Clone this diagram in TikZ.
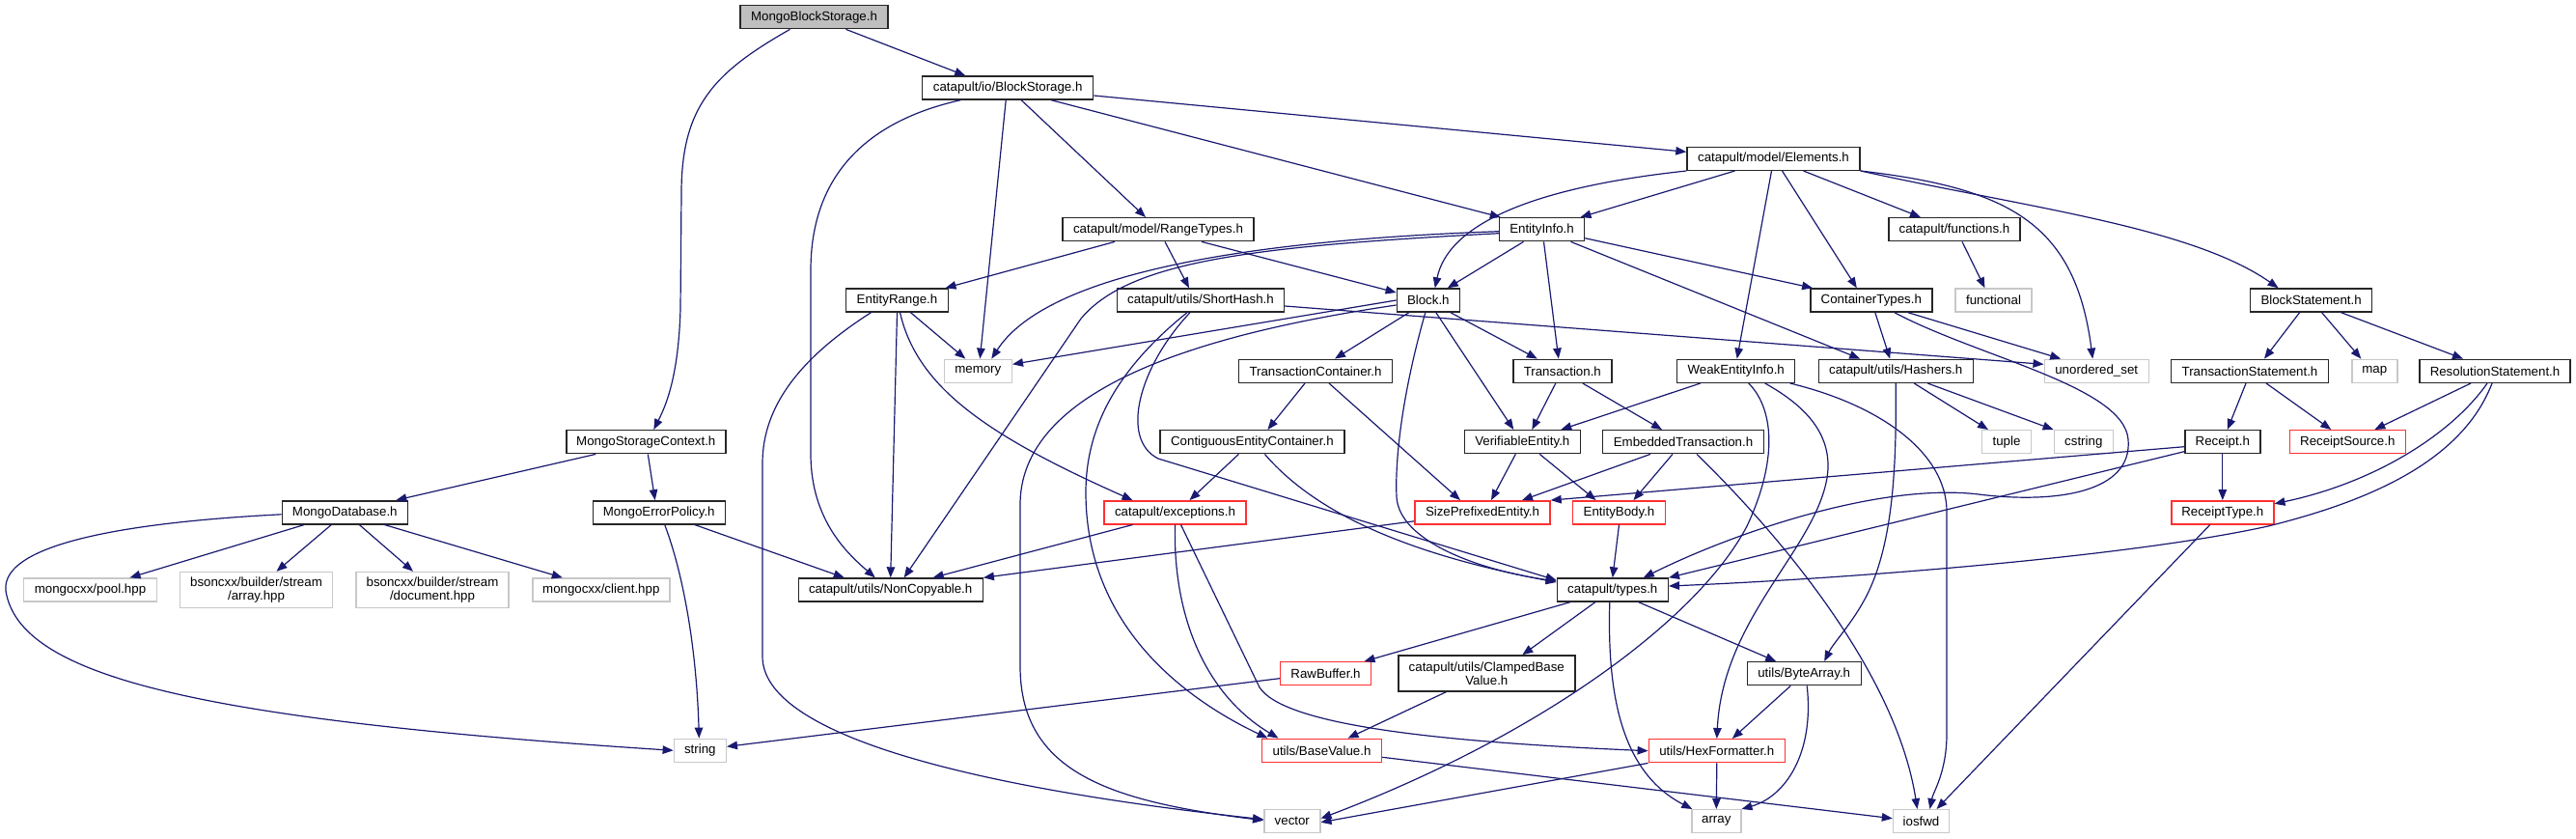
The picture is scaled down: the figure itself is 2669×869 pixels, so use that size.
\documentclass[tikz,border=0pt]{standalone}
\usepackage{fontspec}
\setmainfont{Liberation Sans}
\usetikzlibrary{positioning,arrows.meta}

\definecolor{navyedge}{HTML}{191970}
\definecolor{hdrgray}{HTML}{BFBFBF}
\definecolor{sysgray}{HTML}{C8C8C8}
\definecolor{partred}{HTML}{FF3030}

\begin{document}
\begin{tikzpicture}[
  x=1pt, y=-1pt,
  incfile/.style={draw=black!85, line width=1.4pt, fill=white, minimum height=24pt, inner sep=0pt, align=center, font=\fontsize{13.3}{14}\selectfont},
  sysfile/.style={incfile, draw=sysgray},
  partfile/.style={incfile, draw=partred},
  rootfile/.style={incfile, fill=hdrgray},
  dep/.style={draw=navyedge, line width=1.2pt, -{Triangle[length=11pt,width=8.5pt]}}
]
\useasboundingbox (0,0) rectangle (2669,869);

% Row 0 and 1
\node[rootfile, minimum width=153pt] (mbs) at (843.5,17.7) {MongoBlockStorage.h};
\node[incfile, minimum width=177pt] (ibs) at (1044.2,91) {catapult/io/BlockStorage.h};

% Row 2
\node[incfile, minimum width=179pt] (elem) at (1837.5,164.3) {catapult/model/Elements.h};

% Row 3
\node[incfile, minimum width=198pt] (rtypes) at (1200,237.7) {catapult/model/RangeTypes.h};
\node[incfile, minimum width=88pt] (einfo) at (1597.5,237.7) {EntityInfo.h};
\node[incfile, minimum width=136pt] (func) at (2025,237.7) {catapult/functions.h};

% Row 4
\node[incfile, minimum width=106pt] (erange) at (929.5,311) {EntityRange.h};
\node[incfile, minimum width=173pt] (shash) at (1244,311) {catapult/utils/ShortHash.h};
\node[incfile, minimum width=65pt] (block) at (1479.8,311) {Block.h};
\node[incfile, minimum width=126pt] (ctypes) at (1938.8,311) {ContainerTypes.h};
\node[sysfile, minimum width=79pt] (functional) at (2065.5,311) {functional};
\node[incfile, minimum width=126pt] (bstmt) at (2394.6,311) {BlockStatement.h};

% Row 5
\node[sysfile, minimum width=70pt] (memory) at (1013.3,384.3) {memory};
\node[incfile, minimum width=159pt] (tc) at (1363,384.3) {TransactionContainer.h};
\node[incfile, minimum width=102pt] (trans) at (1618.8,384.3) {Transaction.h};
\node[incfile, minimum width=122pt] (wei) at (1798.7,384.3) {WeakEntityInfo.h};
\node[incfile, minimum width=160pt] (hashers) at (1964.2,384.3) {catapult/utils/Hashers.h};
\node[sysfile, minimum width=108pt] (uset) at (2172.2,384.3) {unordered\_set};
\node[incfile, minimum width=163pt] (tstmt) at (2331,384.3) {TransactionStatement.h};
\node[sysfile, minimum width=47pt] (map) at (2460.3,384.3) {map};
\node[incfile, minimum width=156pt] (rstmt) at (2585,384.3) {ResolutionStatement.h};

% Row 6
\node[incfile, minimum width=165pt] (msc) at (669.3,457.7) {MongoStorageContext.h};
\node[incfile, minimum width=191pt] (cec) at (1297.4,457.7) {ContiguousEntityContainer.h};
\node[incfile, minimum width=120pt] (ve) at (1577.3,457.7) {VerifiableEntity.h};
\node[incfile, minimum width=167pt] (et) at (1744,457.7) {EmbeddedTransaction.h};
\node[sysfile, minimum width=51pt] (tuple) at (2079,457.7) {tuple};
\node[sysfile, minimum width=61pt] (cstring) at (2158.8,457.7) {cstring};
\node[incfile, minimum width=78pt] (receipt) at (2302.8,457.7) {Receipt.h};
\node[partfile, minimum width=120pt] (rsrc) at (2432.3,457.7) {ReceiptSource.h};

% Row 7
\node[incfile, minimum width=130pt] (md) at (357.3,530.8) {MongoDatabase.h};
\node[incfile, minimum width=137pt] (mep) at (682.7,530.8) {MongoErrorPolicy.h};
\node[partfile, minimum width=147pt] (exc) at (1217.5,530.8) {catapult/exceptions.h};
\node[partfile, minimum width=140pt] (spe) at (1536,530.8) {SizePrefixedEntity.h};
\node[partfile, minimum width=96pt] (ebody) at (1677.5,530.8) {EntityBody.h};
\node[partfile, minimum width=106pt] (rtype) at (2302.8,530.8) {ReceiptType.h};

% Row 8
\node[sysfile, minimum width=138pt] (pool) at (93.5,611) {mongocxx/pool.hpp};
\node[sysfile, minimum width=158pt, minimum height=37pt] (arrhpp) at (265.5,611) {bsoncxx/builder/stream\\/array.hpp};
\node[sysfile, minimum width=158pt, minimum height=37pt] (dochpp) at (448,611) {bsoncxx/builder/stream\\/document.hpp};
\node[sysfile, minimum width=142pt] (client) at (622.8,611) {mongocxx/client.hpp};
\node[incfile, minimum width=191pt] (nc) at (922.7,611) {catapult/utils/NonCopyable.h};
\node[incfile, minimum width=115pt] (types) at (1670.8,611) {catapult/types.h};

% Row 9
\node[partfile, minimum width=94pt] (rawbuf) at (1373.5,697.7) {RawBuffer.h};
\node[incfile, minimum width=183pt, minimum height=37pt] (clamped) at (1540.3,697.5) {catapult/utils/ClampedBase\\Value.h};
\node[incfile, minimum width=118pt] (bytearr) at (1869.2,697.7) {utils/ByteArray.h};

% Row 10
\node[sysfile, minimum width=54pt] (string) at (725.3,777.3) {string};
\node[partfile, minimum width=124pt] (bv) at (1369.5,777.3) {utils/BaseValue.h};
\node[partfile, minimum width=141pt] (hexf) at (1778.8,777.7) {utils/HexFormatter.h};

% Row 11
\node[sysfile, minimum width=58pt] (vector) at (1338.8,850.7) {vector};
\node[sysfile, minimum width=51pt] (array) at (1778.3,850.7) {array};
\node[sysfile, minimum width=58pt] (iosfwd) at (1990.5,850.7) {iosfwd};

% MongoBlockStorage.h
\draw[dep] ([xshift=33pt]mbs.south) -- ([xshift=-44pt]ibs.north);
\draw[dep] ([xshift=-25pt]mbs.south) .. controls (740,75) and (706,110) .. (706,200) -- (705,320) .. controls (703,390) and (690,420) .. ([xshift=8pt]msc.north);

% catapult/io/BlockStorage.h
\draw[dep] ([yshift=-8pt]ibs.east) -- ([yshift=7pt]elem.west);
\draw[dep] ([xshift=45pt]ibs.south) -- ([xshift=2pt]einfo.north west);
\draw[dep] ([xshift=14pt]ibs.south) -- ([xshift=-13pt]rtypes.north);
\draw[dep] ([xshift=-2pt]ibs.south) -- ([xshift=2pt]memory.north);
\draw[dep] ([xshift=-49pt]ibs.south) .. controls (900,125) and (840,180) .. (840,280) -- (840,470) .. controls (840,540) and (880,575) .. ([xshift=-16pt]nc.north);

% catapult/model/Elements.h
\draw[dep] (elem.south west) .. controls (1580,195) and (1500,235) .. ([xshift=7pt]block.north);
\draw[dep] ([xshift=-40pt]elem.south) -- ([xshift=40pt]einfo.north);
\draw[dep] ([xshift=-2pt]elem.south) -- ([xshift=1pt]wei.north);
\draw[dep] ([xshift=9pt]elem.south) -- ([xshift=-15pt]ctypes.north);
\draw[dep] ([xshift=31pt]elem.south) -- ([xshift=-35pt]func.north);
\draw[dep] (elem.south east) .. controls (2080,195) and (2150,230) .. ([xshift=-4pt]uset.north);
\draw[dep] (elem.south east) .. controls (2100,215) and (2270,235) .. ([xshift=-34pt]bstmt.north);

% catapult/model/RangeTypes.h
\draw[dep] ([xshift=-45pt]rtypes.south) -- ([xshift=50pt]erange.north);
\draw[dep] ([xshift=7pt]rtypes.south) -- ([xshift=-12pt]shash.north);
\draw[dep] ([xshift=45pt]rtypes.south) -- ([yshift=8pt]block.west);

% EntityInfo.h
\draw[dep] ([yshift=-2pt]einfo.west) .. controls (1260,250) and (1080,290) .. ([xshift=14pt]memory.north);
\draw[dep] ([yshift=-4pt]einfo.west) .. controls (1300,255) and (1170,270) .. (1120,330) -- ([xshift=14pt]nc.north);
\draw[dep] ([xshift=-19pt]einfo.south) -- ([xshift=20pt]block.north);
\draw[dep] ([xshift=2pt]einfo.south) -- ([xshift=-4pt]trans.north);
\draw[dep] ([yshift=-9pt]einfo.east) -- ([xshift=3pt]ctypes.north west);
\draw[dep] ([xshift=30pt]einfo.south) -- ([xshift=-37pt]hashers.north);

% EntityRange.h
\draw[dep] ([xshift=14pt]erange.south) -- ([xshift=-13pt]memory.north);
\draw[dep] (erange.south) -- (nc.north);
\draw[dep] ([xshift=3pt]erange.south) .. controls (950,400) and (1020,450) .. ([xshift=-44pt]exc.north);
\draw[dep] ([xshift=-27pt]erange.south) .. controls (830,370) and (790,420) .. (790,480) -- (790,680) .. controls (790,760) and (1000,815) .. ([yshift=2pt]vector.west);

% catapult/utils/ShortHash.h
\draw[dep] ([yshift=-6pt]shash.east) -- ([yshift=7pt]uset.west);
\draw[dep] ([xshift=-14pt]shash.south) .. controls (1160,380) and (1125,440) .. (1125,510) .. controls (1125,650) and (1230,725) .. ([xshift=-56pt]bv.north);
\draw[dep] ([xshift=-11pt]shash.south) .. controls (1180,380) and (1160,455) .. (1200,475) -- ([yshift=10pt]types.west);

% Block.h
\draw[dep] (block.west) -- ([yshift=7pt]memory.east);
\draw[dep] ([yshift=-5pt]block.west) .. controls (1250,345) and (1060,400) .. (1057,520) -- (1057,690) .. controls (1057,800) and (1150,830) .. ([yshift=1pt]vector.west);
\draw[dep] ([xshift=-20pt]block.south) -- ([xshift=20pt]tc.north);
\draw[dep] ([xshift=-3pt]block.south) .. controls (1455,400) and (1445,470) .. (1447,515) .. controls (1450,560) and (1530,590) .. ([yshift=9pt]types.west);
\draw[dep] ([xshift=8pt]block.south) -- ([xshift=-9pt]ve.north);
\draw[dep] ([xshift=23pt]block.south) -- ([xshift=-26pt]trans.north);

% TransactionContainer.h, Transaction.h
\draw[dep] ([xshift=-11pt]tc.south) -- ([xshift=16pt]cec.north);
\draw[dep] ([xshift=14pt]tc.south) -- ([xshift=-23pt]spe.north);
\draw[dep] ([xshift=-7pt]trans.south) -- ([xshift=10pt]ve.north);
\draw[dep] ([xshift=21pt]trans.south) -- ([xshift=-22pt]et.north);

% WeakEntityInfo.h
\draw[dep] ([xshift=-37pt]wei.south) -- ([xshift=40pt]ve.north);
\draw[dep] ([xshift=13pt]wei.south) .. controls (1835,420) and (1845,470) .. (1810,545) .. controls (1760,640) and (1600,760) .. ([yshift=3pt]vector.east);
\draw[dep] ([xshift=30pt]wei.south) .. controls (1870,420) and (1900,450) .. (1893,495) .. controls (1880,570) and (1785,640) .. (hexf.north);
\draw[dep] ([xshift=56pt]wei.south) .. controls (1950,420) and (2017,470) .. (2017,530) -- (2017,760) .. controls (2017,800) and (2003,820) .. ([xshift=9pt]iosfwd.north);

% ContiguousEntityContainer.h, VerifiableEntity.h, EmbeddedTransaction.h
\draw[dep] ([xshift=-14pt]cec.south) -- ([xshift=15pt]exc.north);
\draw[dep] ([xshift=13pt]cec.south) .. controls (1370,540) and (1480,578) .. ([yshift=8pt]types.west);
\draw[dep] ([xshift=-7pt]ve.south) -- ([xshift=9pt]spe.north);
\draw[dep] ([xshift=18pt]ve.south) -- ([xshift=-24pt]ebody.north);
\draw[dep] ([xshift=-34pt]et.south) -- ([xshift=41pt]spe.north);
\draw[dep] ([xshift=-11pt]et.south) -- ([xshift=15pt]ebody.north);
\draw[dep] ([xshift=14pt]et.south) .. controls (1850,560) and (1965,700) .. ([xshift=-4pt]iosfwd.north);

% catapult/utils/Hashers.h, ContainerTypes.h, functions.h
\draw[dep] ([xshift=19pt]hashers.south) -- ([xshift=-19pt]tuple.north);
\draw[dep] ([xshift=33pt]hashers.south) -- (cstring.north west);
\draw[dep] (hashers.south) .. controls (1965,480) and (1962,560) .. (1935,615) .. controls (1920,645) and (1900,665) .. ([xshift=21pt]bytearr.north);
\draw[dep] ([xshift=4pt]ctypes.south) -- ([xshift=-6pt]hashers.north);
\draw[dep] ([xshift=38pt]ctypes.south) -- ([xshift=-37pt]uset.north);
\draw[dep] ([xshift=24pt]ctypes.south) .. controls (2050,370) and (2200,400) .. (2205,455) .. controls (2210,510) and (2130,522) .. (2050,512) .. controls (1950,500) and (1800,550) .. ([xshift=32pt]types.north);
\draw[dep] ([xshift=8pt]func.south) -- ([xshift=-9pt]functional.north);

% BlockStatement.h and its statements
\draw[dep] ([xshift=-12pt]bstmt.south) -- ([xshift=15pt]tstmt.north);
\draw[dep] ([xshift=11pt]bstmt.south) -- ([xshift=-14pt]map.north);
\draw[dep] ([xshift=31pt]bstmt.south) -- ([xshift=-33pt]rstmt.north);
\draw[dep] ([xshift=-4pt]tstmt.south) -- ([xshift=5pt]receipt.north);
\draw[dep] ([xshift=17pt]tstmt.south) -- ([xshift=-17pt]rsrc.north);
\draw[dep] ([xshift=-25pt]rstmt.south) -- ([xshift=28pt]rsrc.north);
\draw[dep] ([xshift=-8pt]rstmt.south) .. controls (2540,450) and (2460,500) .. ([yshift=9pt]rtype.east);
\draw[dep] ([xshift=-3pt]rstmt.south) .. controls (2550,480) and (2450,520) .. (2350,545) .. controls (2200,578) and (1900,600) .. ([yshift=4pt]types.east);

% Receipt.h
\draw[dep] ([yshift=-5pt]receipt.west) -- (spe.north east);
\draw[dep] ([yshift=-10pt]receipt.west) -- (types.north east);
\draw[dep] (receipt.south) -- (rtype.north);

% Mongo side
\draw[dep] ([xshift=-52pt]msc.south) -- ([xshift=53pt]md.north);
\draw[dep] ([xshift=2pt]msc.south) -- ([xshift=-4pt]mep.north);
\draw[dep] ([xshift=-42pt]md.south) -- ([xshift=41pt]pool.north);
\draw[dep] ([xshift=-14pt]md.south) -- ([xshift=21pt]arrhpp.north);
\draw[dep] ([xshift=15pt]md.south) -- ([xshift=-20pt]dochpp.north);
\draw[dep] ([xshift=41pt]md.south) -- ([xshift=-40pt]client.north);
\draw[dep] ([yshift=-2pt]md.west) .. controls (150,540) and (0,560) .. (6,612) .. controls (20,700) and (200,745) .. (string.west);
\draw[dep] ([xshift=6pt]mep.south) .. controls (710,600) and (722,680) .. ([xshift=-1pt]string.north);
\draw[dep] ([xshift=37pt]mep.south) -- ([xshift=-48pt]nc.north);

% catapult/exceptions.h, SizePrefixedEntity.h, EntityBody.h
\draw[dep] ([xshift=-44pt]exc.south) -- ([xshift=44pt]nc.north);
\draw[dep] (exc.south) .. controls (1215,640) and (1250,720) .. ([xshift=-45pt]bv.north);
\draw[dep] ([xshift=6pt]exc.south) -- (1305,712) .. controls (1330,750) and (1480,768) .. (hexf.west);
\draw[dep] ([yshift=-9pt]spe.west) -- (nc.north east);
\draw[dep] (ebody.south) -- (types.north);

% catapult/types.h
\draw[dep] ([xshift=-44pt]types.south) -- ([xshift=40pt]rawbuf.north);
\draw[dep] ([xshift=-18pt]types.south) -- ([xshift=37pt]clamped.north);
\draw[dep] ([xshift=-3pt]types.south) .. controls (1665,720) and (1680,800) .. ([xshift=-25pt]array.north);
\draw[dep] ([xshift=27pt]types.south) -- ([xshift=-29pt]bytearr.north);

% lower rows
\draw[dep] ([yshift=-5pt]rawbuf.west) -- ([yshift=4pt]string.east);
\draw[dep] ([xshift=-42pt]clamped.south) -- ([xshift=27pt]bv.north);
\draw[dep] ([xshift=-14pt]bytearr.south) -- ([xshift=16pt]hexf.north);
\draw[dep] ([xshift=3pt]bytearr.south) .. controls (1880,780) and (1850,825) .. (array.north east);
\draw[dep] (hexf.south) -- (array.north);
\draw[dep] (hexf.south west) -- ([yshift=-1pt]vector.east);
\draw[dep] ([yshift=-7pt]bv.east) -- ([yshift=3pt]iosfwd.west);
\draw[dep] ([xshift=-13pt]rtype.south) -- ([xshift=16pt]iosfwd.north);

\end{tikzpicture}
\end{document}
